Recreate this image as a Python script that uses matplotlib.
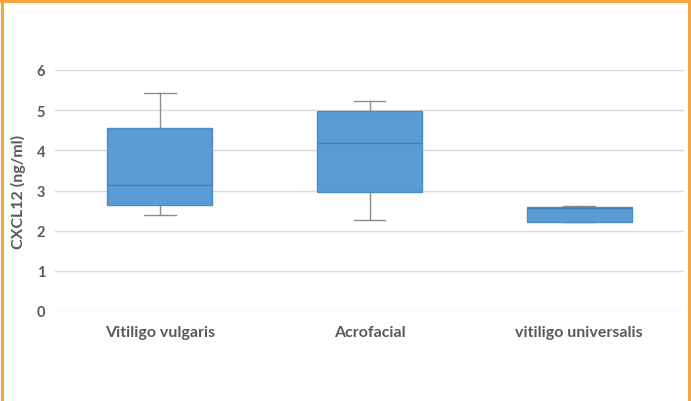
import matplotlib
matplotlib.use("Agg")
import matplotlib.pyplot as plt

categories = ["Vitiligo vulgaris", "Acrofacial", "vitiligo universalis"]
whisker_low = [2.39, 2.27, 2.21]
q1 = [2.64, 2.96, 2.21]
median = [3.14, 4.18, 2.57]
q3 = [4.56, 4.98, 2.59]
whisker_high = [5.43, 5.23, 2.61]
y_ticks = [0, 1, 2, 3, 4, 5, 6]

plt.rcParams['font.family'] = ['Lato', 'DejaVu Sans']

fig = plt.figure(figsize=(6.91, 4.02), dpi=100)
ax = fig.add_axes([55/691, (402-312)/402, (684-55)/691, (312-71)/402])

stats = []
for i, c in enumerate(categories):
    stats.append(dict(label=c, whislo=whisker_low[i], q1=q1[i], med=median[i],
                      q3=q3[i], whishi=whisker_high[i], fliers=[]))

positions = list(range(len(categories)))
bp = ax.bxp(stats, positions=positions, widths=0.5, patch_artist=True,
            showfliers=False,
            boxprops=dict(facecolor="#5B9BD5", edgecolor="#4F8CC6", linewidth=1.0),
            medianprops=dict(color="#447FB8", linewidth=1.0),
            whiskerprops=dict(color="#8C8C8C", linewidth=1.0),
            capprops=dict(color="#8C8C8C", linewidth=1.0),
            capwidths=0.15)
for b in bp['boxes']:
    b.set_zorder(3)
for m in bp['medians']:
    m.set_zorder(4)

ax.set_xlim(-0.5, len(categories) - 0.5)
ax.set_ylim(0, 6)
ax.set_yticks(y_ticks)
ax.set_yticklabels([str(t) for t in y_ticks])
ax.set_xticks(positions)
ax.set_xticklabels(categories)
ax.yaxis.grid(True, color="#DADADA", linewidth=1.0, zorder=0)
ax.set_axisbelow(True)
for s in ax.spines.values():
    s.set_visible(False)
ax.tick_params(axis='both', length=0, colors="#595959")
ax.tick_params(axis='y', pad=7, labelsize=10.5)
ax.tick_params(axis='x', pad=10, labelsize=11.5)
for lab in ax.get_xticklabels() + ax.get_yticklabels():
    lab.set_fontweight("bold")
    lab.set_color("#595959")
ax.set_ylabel("CXCL12 (ng/ml)", fontsize=11.5, fontweight="bold", color="#595959", labelpad=8)

# orange frame (left, top, right)
fig.add_artist(plt.Line2D([1.5/691, 1.5/691], [0, 1 - 1.5/402], color="#F4A540", linewidth=2.2, transform=fig.transFigure))
fig.add_artist(plt.Line2D([0, 1], [1 - 1.5/402, 1 - 1.5/402], color="#F4A540", linewidth=2.2, transform=fig.transFigure))
fig.add_artist(plt.Line2D([689/691, 689/691], [0, 1 - 1.5/402], color="#F4A540", linewidth=2.2, transform=fig.transFigure))

fig.savefig("out.png", dpi=100)
